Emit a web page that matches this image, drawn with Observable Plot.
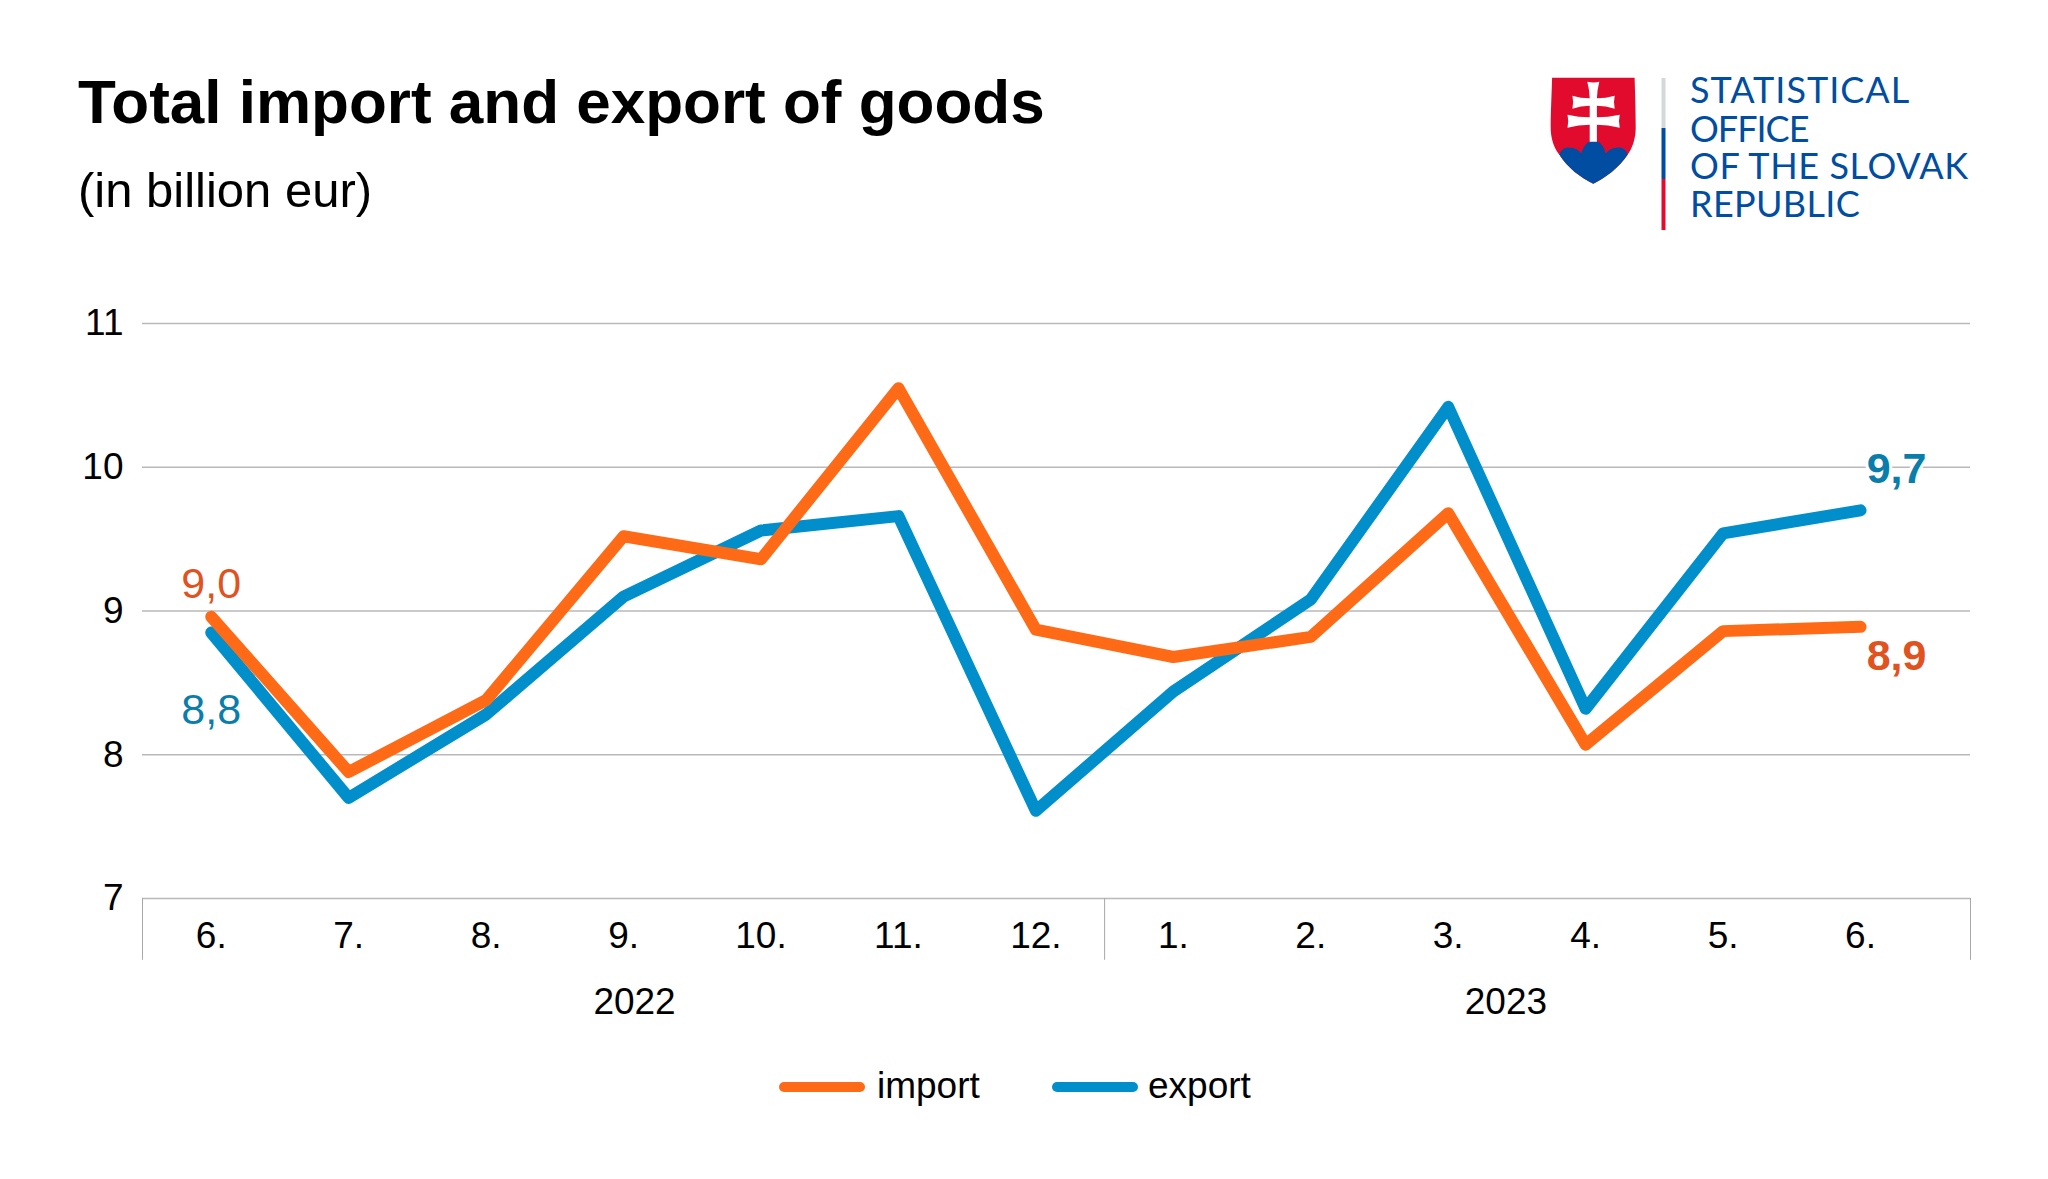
<!DOCTYPE html>
<html>
<head>
<meta charset="utf-8">
<script src="https://cdn.jsdelivr.net/npm/d3@7"></script>
<script src="https://cdn.jsdelivr.net/npm/@observablehq/plot@0.6"></script>
<style>
  html, body { margin: 0; padding: 0; background: #fff; }
  body { width: 2048px; height: 1179px; overflow: hidden; font-family: "Liberation Sans", Arial, sans-serif; color: #000; }
  #header { position: relative; height: 240px; }
  #title { position: absolute; left: 78px; top: 70.5px; font-size: 62px; font-weight: 700; line-height: 1; white-space: nowrap; }
  #subtitle { position: absolute; left: 78px; top: 166px; font-size: 49px; line-height: 1; white-space: nowrap; }
  #logo { position: absolute; left: 1540px; top: 60px; }
  #chart svg { display: block; }
  #legend { position: relative; height: 119px; font-size: 37px; line-height: 1; }
  #legend .sw { position: absolute; top: 22px; height: 10px; border-radius: 5px; width: 86px; }
  #legend .tx { position: absolute; top: 6.7px; }
</style>
</head>
<body>
<div id="header">
  <div id="title">Total import and export of goods</div>
  <div id="subtitle">(in billion eur)</div>
  <svg id="logo" width="500" height="180" viewBox="0 0 500 180">
    <g transform="translate(10.7,17.7)">
      <path fill="#E30B2D" d="M1.4 0H83.9C84.5 20 85 35 85 50C85 60 82 70 76.9 77C68 90 55 100 42.6 106C30 100 17 90 8.7 77C3 70 0 60 0 50C0 35 .8 20 1.4 0Z"/>
      <path fill="#004DA1" d="M8.7 77C11 71 15 69.5 19 70C24 70 28 72 30.4 75.7C33 68 37 63 43 63C49 63 53 68 55 75.7C58 72 62 70 66 70C71 69.5 75 71 76.9 77C68 90 55 100 42.6 106C30 100 17 90 8.7 77Z"/>
      <path fill="#fff" d="M36.6 4Q42.6 5.5 48.6 4Q46.5 12 46.2 20.5Q55 20.5 64 18Q62.5 24.5 64 31Q55 28 46.2 28V39.5Q57 39.5 69 37Q67.5 43.5 69 50Q57 47 46.2 47V64H39V47Q28 47 16.8 50Q18.3 43.5 16.8 37Q28 39.5 39 39.5V28Q30 28 21.7 31Q23.2 24.5 21.7 18Q30 20.5 39 20.5Q38.7 12 36.6 4Z"/>
    </g>
    <rect x="121.5" y="18" width="4" height="50" fill="#D5D8DA"/>
    <rect x="121.5" y="68" width="4" height="51" fill="#004DA1"/>
    <rect x="121.5" y="119" width="4" height="51" fill="#E30B2D"/>
    <text fill="#004DA1" font-family="Lato" font-size="36">
      <tspan x="150" y="43" style="letter-spacing:1px">STATISTICAL</tspan>
      <tspan x="150" y="81.5" style="letter-spacing:-1px">OFFICE</tspan>
      <tspan x="150" y="119" style="letter-spacing:.6px">OF THE SLOVAK</tspan>
      <tspan x="150" y="157" style="letter-spacing:.35px">REPUBLIC</tspan>
    </text>
  </svg>
</div>
<div id="chart"></div>
<div id="legend">
  <span class="sw" style="left:779px;background:#FF6A17"></span>
  <span class="tx" style="left:877px">import</span>
  <span class="sw" style="left:1052px;background:#008FCB"></span>
  <span class="tx" style="left:1148px">export</span>
</div>
<script>
const months = ["6.","7.","8.","9.","10.","11.","12.","1.","2.","3.","4.","5.","6."];
const importValues = [8.96,7.88,8.38,9.52,9.36,10.55,8.87,8.68,8.82,9.68,8.07,8.86,8.89];
const exportValues = [8.85,7.70,8.28,9.10,9.56,9.66,7.61,8.44,9.08,10.42,8.32,9.54,9.70];
const yTicks = [7,8,9,10,11];
const years = ["2022","2023"];
const yearCenters = [3.08,9.42];
const dividers = [-0.5,6.5,12.8];
const labelImportFirst = "9,0";
const labelExportFirst = "8,8";
const labelExportLast = "9,7";
const labelImportLast = "8,9";

const idx = months.map((_, i) => i);
const rows = [
  ...exportValues.map((v, i) => ({i, v, s: "export"})),
  ...importValues.map((v, i) => ({i, v, s: "import"}))
];
const last = months.length - 1;
const orangeText = "#E0531F", blueText = "#0A7EAA";

const plot = Plot.plot({
  width: 2048,
  height: 820,
  marginTop: 83,
  marginBottom: 162,
  marginLeft: 142,
  marginRight: 78,
  style: {fontFamily: "Liberation Sans, Arial, sans-serif", background: "#fff", color: "#000"},
  x: {type: "linear", domain: [-0.5, 12.8], axis: null},
  y: {domain: [7, 11], axis: null},
  color: {domain: ["import","export"], range: ["#FF6A17","#008FCB"]},
  marks: [
    Plot.ruleY(yTicks, {stroke: "#b9b9b9", strokeWidth: 1.6}),
    Plot.ruleX(dividers, {y1: 7, y2: 6.57, stroke: "#a8a8a8", strokeWidth: 1}),
    Plot.axisY({ticks: yTicks, tickSize: 0, tickPadding: 19, fontSize: 37, label: null, tickFormat: d => d, fill: "#000"}),
    Plot.axisX({ticks: idx, tickSize: 0, tickPadding: 23.7, fontSize: 37, label: null, tickFormat: i => months[i], fill: "#000"}),
    Plot.text(years, {x: (d, i) => yearCenters[i], y: 6.28, text: d => d, fontSize: 37, fill: "#000"}),
    Plot.line(rows, {x: "i", y: "v", z: "s", stroke: "s", strokeWidth: 12, strokeLinecap: "round", strokeLinejoin: "round"}),
    Plot.text([labelImportFirst], {x: 0, y: importValues[0], dy: -33, text: d => d, fontSize: 43, fill: orangeText}),
    Plot.text([labelExportFirst], {x: 0, y: exportValues[0], dy: 78, text: d => d, fontSize: 43, fill: blueText}),
    Plot.text([labelExportLast], {x: last, y: exportValues[last], dx: 36, dy: -41, text: d => d, fontSize: 43, fontWeight: 700, fill: blueText, stroke: "#fff", strokeWidth: 6}),
    Plot.text([labelImportLast], {x: last, y: importValues[last], dx: 36, dy: 29, text: d => d, fontSize: 43, fontWeight: 700, fill: orangeText})
  ]
});
document.getElementById("chart").appendChild(plot);
</script>
</body>
</html>
